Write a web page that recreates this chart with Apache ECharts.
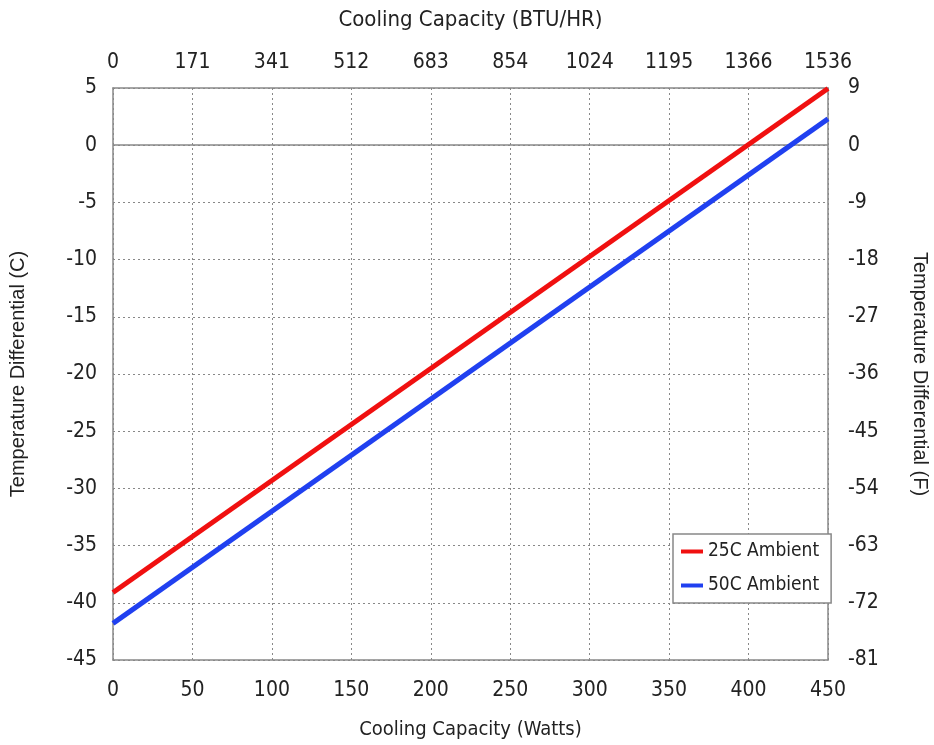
<!DOCTYPE html>
<html><head><meta charset="utf-8">
<script src="https://cdn.jsdelivr.net/npm/echarts@6/dist/echarts.min.js"></script>
<style>html,body{margin:0;padding:0;background:#fff}#c{width:934px;height:745px}</style>
</head><body><div id="c"></div>
<script>
const wattsX = [0, 450];
const red25 = [-39.1, 4.95];
const blue50 = [-41.8, 2.3];
const btuLabels = ['0','171','341','512','683','854','1024','1195','1366','1536'];
const seriesNames = ['25C Ambient', '50C Ambient'];

const FN = '"Liberation Sans Narrow","DejaVu Sans Condensed","Open Sans",sans-serif';
const gridLine = {show:true, lineStyle:{color:'#888', type:[2,3], width:1}};
const axLine = {show:true, onZero:false, lineStyle:{color:'#888', width:1.5}};
const lbl = {color:'#222', fontSize:21, fontFamily:FN};

const chart = echarts.init(document.getElementById('c'));
chart.setOption({
  animation:false,
  backgroundColor:'#fff',
  grid:{left:113, right:106, top:88, bottom:85, containLabel:false, outerBoundsMode:'none'},
  legend:{
    orient:'vertical', left:673, top:534, width:157,
    data:seriesNames, icon:'rect', itemWidth:22, itemHeight:4, itemGap:15,
    padding:[8,12,8,8], borderColor:'#888', borderWidth:1.5, backgroundColor:'#fff',
    textStyle:{fontSize:19, fontFamily:FN, color:'#222'}
  },
  xAxis:[
    {type:'value', position:'bottom', min:0, max:450, interval:50,
     axisLine:axLine, axisTick:{show:false}, splitLine:gridLine,
     axisLabel:Object.assign({margin:20}, lbl),
     name:'Cooling Capacity (Watts)', nameLocation:'middle', nameGap:60,
     nameTextStyle:{fontSize:20, fontFamily:FN, color:'#222'}},
    {type:'value', position:'top', min:0, max:9, interval:1,
     axisLine:axLine, axisTick:{show:false}, splitLine:{show:false},
     axisLabel:Object.assign({margin:15, formatter:v=>btuLabels[Math.round(v)]}, lbl),
     name:'Cooling Capacity (BTU/HR)', nameLocation:'middle', nameGap:57,
     nameTextStyle:{fontSize:22, fontFamily:FN, color:'#222'}}
  ],
  yAxis:[
    {type:'value', position:'left', min:-45, max:5, interval:5,
     axisLine:axLine, axisTick:{show:false}, splitLine:gridLine,
     axisLabel:Object.assign({margin:16}, lbl),
     name:'Temperature Differential (C)', nameLocation:'middle', nameGap:85, nameRotate:90,
     nameTextStyle:{fontSize:20, fontFamily:'"Liberation Sans",Arial,sans-serif', color:'#222'}},
    {type:'value', position:'right', min:-81, max:9, interval:9,
     axisLine:axLine, axisTick:{show:false}, splitLine:{show:false},
     axisLabel:Object.assign({margin:20}, lbl),
     name:'Temperature Differential (F)', nameLocation:'middle', nameGap:82, nameRotate:-90,
     nameTextStyle:{fontSize:20, fontFamily:'"Liberation Sans",Arial,sans-serif', color:'#222'}}
  ],
  series:[
    {name:seriesNames[0], type:'line', xAxisIndex:0, yAxisIndex:0, showSymbol:false, symbol:'none',
     data:wattsX.map((x,i)=>[x, red25[i]]), lineStyle:{color:'#f01010', width:5}, itemStyle:{color:'#f01010'}, z:5,
     markLine:{silent:true, symbol:'none', label:{show:false}, lineStyle:{color:'#888', type:'solid', width:1.5}, data:[{yAxis:0}]}},
    {name:seriesNames[1], type:'line', xAxisIndex:0, yAxisIndex:0, showSymbol:false, symbol:'none',
     data:wattsX.map((x,i)=>[x, blue50[i]]), lineStyle:{color:'#2040f0', width:5}, itemStyle:{color:'#2040f0'}, z:5}
  ]
});
</script></body></html>
